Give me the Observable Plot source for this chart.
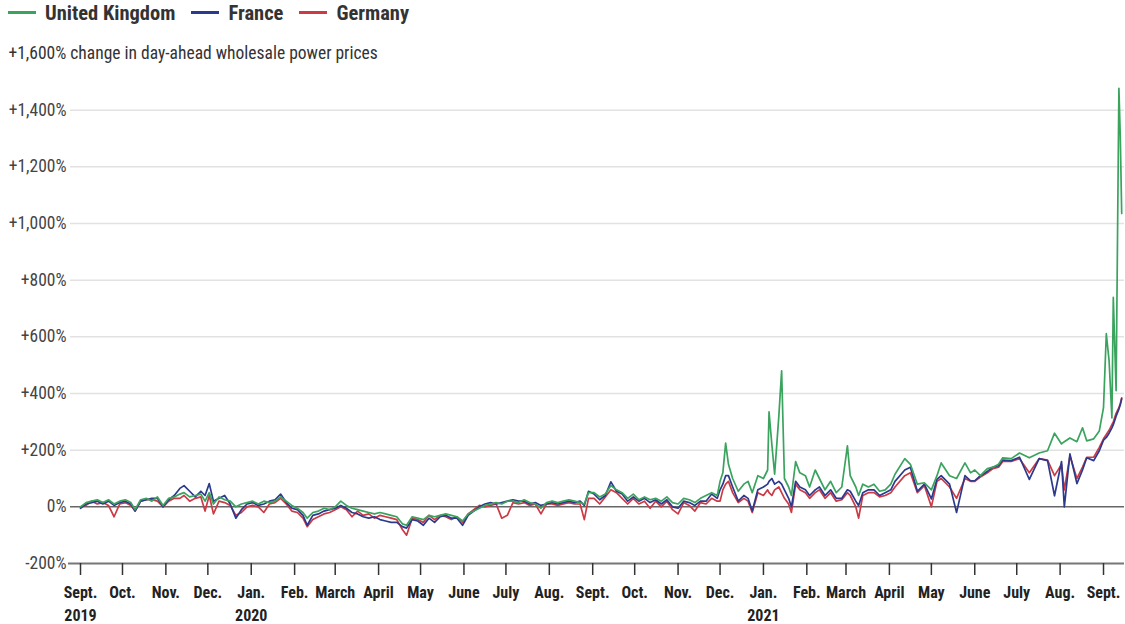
<!DOCTYPE html>
<html><head><meta charset="utf-8">
<script src="https://cdn.jsdelivr.net/npm/d3@7"></script>
<script src="https://cdn.jsdelivr.net/npm/@observablehq/plot@0.6"></script>
<style>
body{margin:0;background:#fff;font-family:"Roboto Condensed","DejaVu Sans Condensed","Liberation Sans Narrow",Roboto,sans-serif;font-stretch:condensed;}
#legend{height:25px;display:flex;align-items:center;padding-left:8px;font-weight:bold;font-size:20.5px;color:#333}
.item{display:flex;align-items:center;margin-right:16px}
.sw{width:28px;height:3px;margin-right:9px}
svg text{font-stretch:condensed}
</style></head><body>
<div id="legend"></div><div id="chart"></div>
<script>
const countries = ["United Kingdom", "France", "Germany"];
const colors = ["#3aa35e", "#2c3a8e", "#cc3a45"];
const subtitle = "+1,600% change in day-ahead wholesale power prices";
const yTicks = [-200, 0, 200, 400, 600, 800, 1000, 1200, 1400];
const monthNames = ["Jan.","Feb.","March","April","May","June","July","Aug.","Sept.","Oct.","Nov.","Dec."];

const dates = [
"2019-09-01","2019-09-05","2019-09-09","2019-09-13","2019-09-17","2019-09-21","2019-09-25","2019-09-29",
"2019-10-03","2019-10-07","2019-10-10","2019-10-14","2019-10-18","2019-10-22","2019-10-26","2019-10-30",
"2019-11-03","2019-11-07","2019-11-11","2019-11-14","2019-11-18","2019-11-22","2019-11-26","2019-11-29",
"2019-12-02","2019-12-05","2019-12-09","2019-12-13","2019-12-17","2019-12-21","2019-12-25","2019-12-29",
"2020-01-02","2020-01-06","2020-01-10","2020-01-14","2020-01-18","2020-01-22","2020-01-26","2020-01-30",
"2020-02-03","2020-02-07","2020-02-10","2020-02-14","2020-02-18","2020-02-22","2020-02-26",
"2020-03-01","2020-03-05","2020-03-09","2020-03-13","2020-03-17","2020-03-21","2020-03-25","2020-03-29",
"2020-04-02","2020-04-06","2020-04-10","2020-04-14","2020-04-18","2020-04-21","2020-04-25","2020-04-29",
"2020-05-03","2020-05-07","2020-05-11","2020-05-15","2020-05-19","2020-05-23","2020-05-27","2020-05-31",
"2020-06-04","2020-06-08","2020-06-12","2020-06-16","2020-06-20","2020-06-24","2020-06-28",
"2020-07-02","2020-07-06","2020-07-10","2020-07-14","2020-07-18","2020-07-22","2020-07-26","2020-07-30",
"2020-08-03","2020-08-07","2020-08-11","2020-08-15","2020-08-19","2020-08-23","2020-08-26","2020-08-29",
"2020-09-02","2020-09-06","2020-09-10","2020-09-14","2020-09-18","2020-09-22","2020-09-26","2020-09-30",
"2020-10-04","2020-10-08","2020-10-12","2020-10-16","2020-10-20","2020-10-24","2020-10-28",
"2020-11-01","2020-11-05","2020-11-09","2020-11-13","2020-11-17","2020-11-21","2020-11-25","2020-11-29",
"2020-12-01","2020-12-03","2020-12-05","2020-12-07","2020-12-10","2020-12-14","2020-12-18","2020-12-21","2020-12-24","2020-12-28",
"2021-01-01","2021-01-04","2021-01-05","2021-01-07","2021-01-09","2021-01-12","2021-01-14","2021-01-16","2021-01-19","2021-01-21","2021-01-24","2021-01-27","2021-01-31",
"2021-02-03","2021-02-07","2021-02-10","2021-02-14","2021-02-18","2021-02-22","2021-02-26",
"2021-03-02","2021-03-04","2021-03-08","2021-03-10","2021-03-13","2021-03-17","2021-03-21","2021-03-25","2021-03-29",
"2021-04-02","2021-04-05","2021-04-12","2021-04-16","2021-04-21","2021-04-26",
"2021-05-01","2021-05-05","2021-05-08","2021-05-14","2021-05-19","2021-05-25","2021-05-29",
"2021-06-01","2021-06-05","2021-06-10","2021-06-14","2021-06-18","2021-06-21","2021-06-27",
"2021-07-03","2021-07-10","2021-07-17","2021-07-23","2021-07-28",
"2021-08-02","2021-08-04","2021-08-08","2021-08-13","2021-08-17","2021-08-20","2021-08-25","2021-08-29",
"2021-09-01","2021-09-03","2021-09-05","2021-09-07","2021-09-08","2021-09-10","2021-09-12","2021-09-13","2021-09-14"
];

const uk = [
0,15,20,25,15,25,10,20,
25,15,-10,25,30,20,35,5,
30,35,45,50,35,40,45,20,
50,10,35,25,20,0,10,15,
20,10,20,15,20,35,20,5,
-5,-20,-40,-20,-15,-5,-10,
0,20,5,-5,-10,-15,-20,-25,
-20,-25,-30,-35,-60,-65,-35,-40,
-45,-30,-35,-30,-25,-30,-35,-50,
-25,-15,-5,5,10,15,10,
20,20,15,25,15,10,-5,15,
20,15,20,25,20,15,10,50,
50,35,45,75,60,50,30,45,
25,35,25,30,20,35,15,
10,30,25,15,30,40,50,40,
90,120,225,150,100,55,80,90,50,110,
100,130,335,220,115,320,480,100,70,40,160,120,110,
70,130,100,60,90,50,70,
215,110,70,40,80,70,80,55,60,
80,115,170,150,80,85,
60,110,155,110,100,155,120,
130,110,135,140,150,173,170,
190,173,190,198,260,
222,230,243,230,279,233,240,268,
350,611,515,314,739,410,1477,1304,1035
];

const france = [
-5,10,15,20,10,20,5,15,
20,10,-15,20,25,30,30,0,
25,40,65,75,55,35,55,40,
82,20,30,40,10,-40,-10,10,
15,5,10,20,25,45,15,-5,
-10,-30,-65,-30,-25,-15,-10,
-5,5,-5,-20,-25,-35,-40,-35,
-45,-50,-55,-55,-70,-75,-45,-50,
-65,-40,-55,-35,-30,-40,-40,-65,
-30,-15,0,10,15,10,15,
20,25,20,20,10,15,5,10,
15,10,15,20,15,20,5,55,
45,25,40,88,55,45,20,35,
20,30,15,25,10,25,0,
-5,20,15,5,20,20,45,30,
60,80,110,110,70,20,40,30,-15,60,
70,80,90,100,80,90,80,60,30,0,90,70,60,
40,60,70,40,60,30,30,
60,55,20,5,50,60,60,40,50,
60,90,130,140,55,80,
28,97,110,80,-20,110,92,
92,110,125,140,145,165,163,
175,97,170,163,39,
160,0,187,82,130,173,163,198,
235,245,260,279,290,320,345,360,381
];

const germany = [
0,5,20,10,15,5,-35,10,
15,5,-15,20,25,25,20,0,
20,30,30,40,20,30,35,-15,
40,-25,20,15,5,-30,-20,0,
5,0,-20,10,15,30,10,-15,
-20,-40,-70,-45,-35,-25,-20,
-10,0,-10,-35,-15,-30,-25,-40,
-30,-35,-40,-45,-80,-100,-40,-45,
-55,-30,-45,-30,-35,-45,-35,-55,
-25,-10,5,0,5,10,-40,
-30,15,10,15,5,10,-25,10,
10,5,10,15,10,10,-45,30,
30,10,35,60,50,30,10,30,
10,20,-5,20,0,20,-10,
-25,15,5,-15,15,10,30,20,
20,60,80,90,50,15,30,20,-20,50,
40,60,50,40,60,70,50,30,10,-20,80,60,50,
30,50,60,30,50,20,25,
50,40,0,-40,40,50,50,35,40,
50,70,110,120,50,75,
0,90,100,70,30,100,90,
90,105,120,135,140,160,160,
170,120,170,165,110,
150,60,180,100,140,175,175,210,
240,255,270,290,300,330,350,365,385
];

// legend
const legend = document.getElementById("legend");
countries.forEach((c, i) => {
  const it = document.createElement("div"); it.className = "item";
  const sw = document.createElement("div"); sw.className = "sw"; sw.style.background = colors[i];
  const tx = document.createElement("span"); tx.textContent = c;
  it.appendChild(sw); it.appendChild(tx); legend.appendChild(it);
});

const series = {"United Kingdom": uk, "France": france, "Germany": germany};
const drawOrder = ["Germany", "France", "United Kingdom"];
const rows = drawOrder.flatMap(c => dates.map((d, i) => ({date: new Date(d), value: series[c][i], country: c})));

const monthTicks = d3.utcMonth.range(new Date("2019-09-01"), new Date("2021-09-02"));
const tickLabel = d => {
  const m = monthNames[d.getUTCMonth()];
  const first = d.getTime() === monthTicks[0].getTime();
  return (d.getUTCMonth() === 0 || first) ? m + "\n" + d.getUTCFullYear() : m;
};
const fmt = v => v === 0 ? "0%" : (v > 0 ? "+" : "-") + d3.format(",")(Math.abs(v)) + "%";
const gridVals = yTicks.filter(v => v > 0);
const ff = '"Roboto Condensed","DejaVu Sans Condensed","Liberation Sans Narrow",Roboto,sans-serif';

const chart = Plot.plot({
  width: 1125, height: 599,
  marginTop: 28, marginBottom: 61, marginLeft: 80, marginRight: 1,
  style: {fontFamily: ff, fontSize: "16px", color: "#333", background: "#fff", overflow: "visible"},
  x: {type: "utc", domain: [new Date("2019-09-01"), new Date("2021-09-16")]},
  y: {domain: [-200, 1600]},
  color: {domain: countries, range: colors},
  marks: [
    Plot.ruleY(gridVals, {stroke: "#e2e2e2", strokeWidth: 1.5, insetLeft: -10}),
    Plot.ruleY([0], {stroke: "#666", strokeWidth: 1.5, insetLeft: -10}),
    Plot.ruleY([-200], {stroke: "#777", strokeWidth: 2, insetLeft: -12}),
    Plot.axisY({ticks: yTicks, tickSize: 0, tickPadding: 14, tickFormat: fmt, fontSize: 17.5, fill: "#444", label: null}),
    Plot.text([{y: 1600, t: subtitle}], {y: "y", text: "t", frameAnchor: "left", textAnchor: "start", dx: -72, fontSize: 17.5, fill: "#333"}),
    Plot.axisX({ticks: monthTicks, tickSize: 12, tickPadding: 6, tickFormat: tickLabel, fontSize: 16, fontWeight: "bold", lineHeight: 1.45, strokeWidth: 1.5, fill: "#222", label: null}),
    Plot.line(rows, {x: "date", y: "value", z: "country", stroke: "country", strokeWidth: 1.7})
  ]
});
document.getElementById("chart").appendChild(chart);
</script></body></html>
